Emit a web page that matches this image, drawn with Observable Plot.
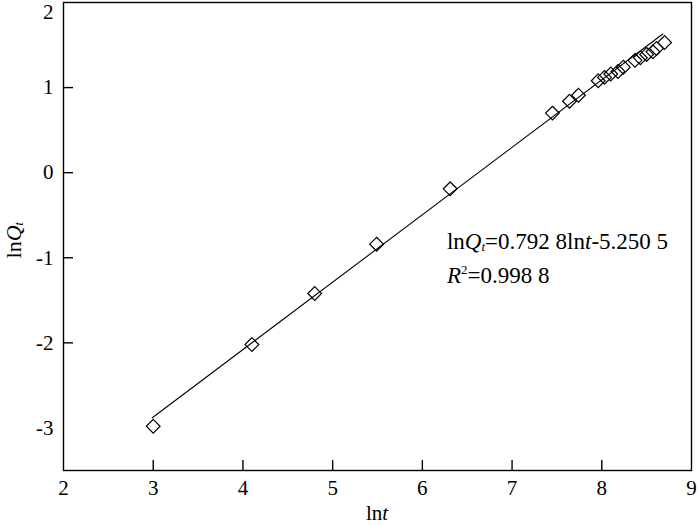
<!DOCTYPE html>
<html><head><meta charset="utf-8">
<script src="https://cdn.jsdelivr.net/npm/d3@7"></script>
<script src="https://cdn.jsdelivr.net/npm/@observablehq/plot@0.6"></script>
<style>body{margin:0;background:#fff} svg{font-family:"Liberation Serif",serif}</style>
</head><body><div id="chart"></div>
<script>
// measured points (ln t, ln Qt)
const lnT = [3.00, 4.10, 4.80, 5.49, 6.31, 7.45, 7.64, 7.74, 7.96, 8.03, 8.10, 8.18, 8.24, 8.37, 8.43, 8.50, 8.57, 8.61, 8.70];
const lnQ = [-2.98, -2.02, -1.42, -0.84, -0.19, 0.70, 0.84, 0.91, 1.08, 1.12, 1.16, 1.19, 1.24, 1.32, 1.35, 1.39, 1.42, 1.46, 1.53];
// fitted line endpoints (lnQt = 0.7928 lnt - 5.2505)
const fitT = [2.99, 8.68];
const fitQ = [-2.88, 1.63];
const xTicks = [2, 3, 4, 5, 6, 7, 8, 9];
const yTicks = [-3, -2, -1, 0, 1, 2];
const eqText = ["ln", "Q", "t", "=0.792 8ln", "t", "-5.250 5"];
const r2Text = ["R", "2", "=0.998 8"];

const pts = lnT.map((t, i) => ({t, q: lnQ[i]}));
const fit = fitT.map((t, i) => ({t, q: fitQ[i]}));
const fmt = d => String(d);

const plot = Plot.plot({
  width: 700, height: 525,
  marginLeft: 63, marginRight: 9, marginTop: 2, marginBottom: 55,
  x: {domain: [2, 9]},
  y: {domain: [-3.5, 2]},
  style: {fontFamily: "Liberation Serif", fontSize: "21px", color: "#000", background: "#fff", overflow: "visible"},
  marks: [
    Plot.line(fit, {x: "t", y: "q", stroke: "#000", strokeWidth: 1.1}),
    Plot.dot(pts, {x: "t", y: "q", symbol: "diamond2", r: 6.2, stroke: "#000", strokeWidth: 1.2, fill: "none"}),
    Plot.tickX(xTicks.slice(1, -1), {x: d => d, insetTop: 458, stroke: "#000", strokeWidth: 1.4}),
    Plot.tickY(yTicks.slice(1, -1), {y: d => d, insetRight: 618, stroke: "#000", strokeWidth: 1.4}),
    Plot.frame({stroke: "#000", strokeWidth: 1.4}),
    Plot.axisX({ticks: xTicks, tickSize: 0, tickPadding: 10, tickFormat: fmt, fontSize: 21, label: null}),
    Plot.axisY({ticks: yTicks.slice(0, -1), tickSize: 0, tickPadding: 10, tickFormat: fmt, fontSize: 21, label: null}),
    Plot.axisY({ticks: yTicks.slice(-1), tickSize: 0, tickPadding: 10, tickFormat: fmt, dy: 10, fontSize: 21, label: null})
  ]
});
document.getElementById("chart").appendChild(plot);

const svg = d3.select(plot);
const sx = plot.scale("x"), sy = plot.scale("y");

// annotation
const a1 = svg.append("text").attr("x", sx.apply(6.28)).attr("y", sy.apply(-0.90)).attr("text-anchor", "start")
  .attr("font-size", 23).attr("font-family", "Liberation Serif").attr("fill", "#000");
a1.append("tspan").text(eqText[0]);
a1.append("tspan").attr("font-style", "italic").text(eqText[1]);
a1.append("tspan").attr("font-style", "italic").attr("font-size", 13).attr("dy", 2).text(eqText[2]);
a1.append("tspan").attr("dy", -2).text(eqText[3]);
a1.append("tspan").attr("font-style", "italic").text(eqText[4]);
a1.append("tspan").text(eqText[5]);

const a2 = svg.append("text").attr("x", sx.apply(6.28)).attr("y", sy.apply(-1.30)).attr("text-anchor", "start")
  .attr("font-size", 23).attr("font-family", "Liberation Serif").attr("fill", "#000");
a2.append("tspan").attr("font-style", "italic").text(r2Text[0]);
a2.append("tspan").attr("font-size", 13).attr("dy", -9).text(r2Text[1]);
a2.append("tspan").attr("dy", 9).text(r2Text[2]);

// x axis label
const xl = svg.append("text").attr("x", sx.apply(5.5)).attr("y", 520).attr("text-anchor", "middle")
  .attr("font-size", 21).attr("font-family", "Liberation Serif").attr("fill", "#000");
xl.append("tspan").text("ln");
xl.append("tspan").attr("font-style", "italic").text("t");

// y axis label
const yl = svg.append("text").attr("transform", `translate(21,${sy.apply(-0.80)}) rotate(-90)`).attr("text-anchor", "middle")
  .attr("font-size", 22).attr("font-family", "Liberation Serif").attr("fill", "#000");
yl.append("tspan").text("ln");
yl.append("tspan").attr("font-style", "italic").text("Q");
yl.append("tspan").attr("font-style", "italic").attr("font-size", 12).attr("dy", 2).text("t");
</script>
</body></html>
